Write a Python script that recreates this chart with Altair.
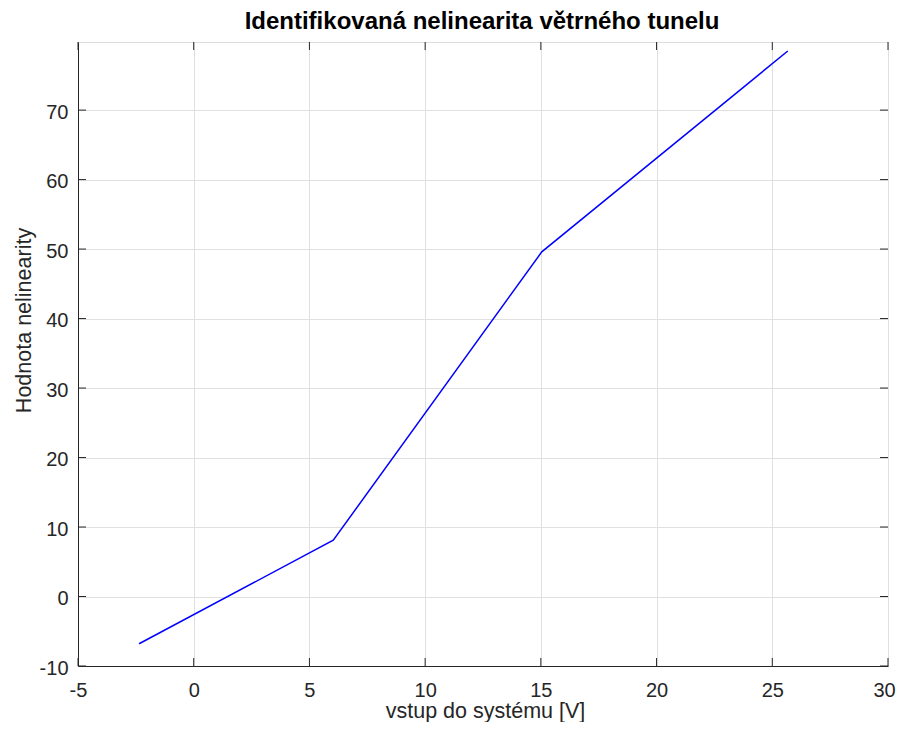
import altair as alt
import pandas as pd

# Data
x_vals = [-2.36, 6.03, 15.04, 25.67]
y_vals = [-6.8, 8.1, 49.6, 78.5]
x_ticks = [-5, 0, 5, 10, 15, 20, 25, 30]
y_ticks = [-10, 0, 10, 20, 30, 40, 50, 60, 70]
title_text = "Identifikovaná nelinearita větrného tunelu"

W, H = 810, 624
FONT = "Liberation Sans"
DARK = "#262626"
GRID = "#e0e0e0"
TICK = 8

line_df = pd.DataFrame({"x": x_vals, "y": y_vals})
xt_df = pd.DataFrame({"x": x_ticks})
yt_df = pd.DataFrame({"y": y_ticks})
title_df = pd.DataFrame({"t": [title_text]})

xscale = alt.Scale(domain=[-5, 30], nice=False, zero=False)
yscale = alt.Scale(domain=[-10, 79.8], nice=False, zero=False)

xaxis = alt.Axis(values=x_ticks, grid=True, gridColor=GRID, tickSize=0,
                 domainColor=DARK, labelColor=DARK, labelFont=FONT, labelFontSize=20,
                 labelPadding=14, labelExpr="datum.value + ''",
                 labelOffset={"condition": {"test": "datum.value == 30", "value": -4}, "value": 0},
                 title="vstup do systému [V]", titleFont=FONT,
                 titleFontSize=21.5, titleFontWeight="normal", titleColor=DARK,
                 titleBaseline="alphabetic", titleY=51, titleX=407, labelFlush=False)
yaxis = alt.Axis(values=y_ticks, grid=True, gridColor=GRID, tickSize=0,
                 domainColor=DARK, labelColor=DARK, labelFont=FONT, labelFontSize=20,
                 labelPadding=10, labelOffset=2, labelExpr="datum.value + ''",
                 title="Hodnota nelinearity", titleFont=FONT,
                 titleFontSize=21.5, titleFontWeight="normal", titleColor=DARK,
                 titleBaseline="alphabetic", titleX=-48, titleY=278, labelFlush=False)

line = alt.Chart(line_df).mark_line(color="#0000ff", strokeWidth=1.5, clip=True).encode(
    x=alt.X("x:Q", scale=xscale, axis=xaxis),
    y=alt.Y("y:Q", scale=yscale, axis=yaxis),
)

xt_bottom = alt.Chart(xt_df).mark_rule(color=DARK, strokeWidth=1).encode(
    x=alt.X("x:Q", scale=xscale), y=alt.value(H), y2=alt.value(H - TICK))
xt_top = alt.Chart(xt_df).mark_rule(color=DARK, strokeWidth=1).encode(
    x=alt.X("x:Q", scale=xscale), y=alt.value(0), y2=alt.value(TICK))
yt_left = alt.Chart(yt_df).mark_rule(color=DARK, strokeWidth=1).encode(
    y=alt.Y("y:Q", scale=yscale), x=alt.value(0), x2=alt.value(TICK))
yt_right = alt.Chart(yt_df).mark_rule(color=DARK, strokeWidth=1).encode(
    y=alt.Y("y:Q", scale=yscale), x=alt.value(W), x2=alt.value(W - TICK))

title = alt.Chart(title_df).mark_text(
    font=FONT, fontSize=24, fontWeight="bold", color="black",
    align="center", baseline="alphabetic", clip=False,
).encode(x=alt.value(W / 2 - 1), y=alt.value(-13), text="t:N")

chart = alt.layer(line, xt_bottom, xt_top, yt_left, yt_right, title).properties(
    width=W, height=H,
    autosize=alt.AutoSizeParams(type="none"),
    padding={"left": 70, "top": 34, "right": 8, "bottom": 56},
).configure_view(stroke=DARK, strokeWidth=1).configure(background="white")

chart.save("out.html", embed_options={"renderer": "svg", "actions": False})
